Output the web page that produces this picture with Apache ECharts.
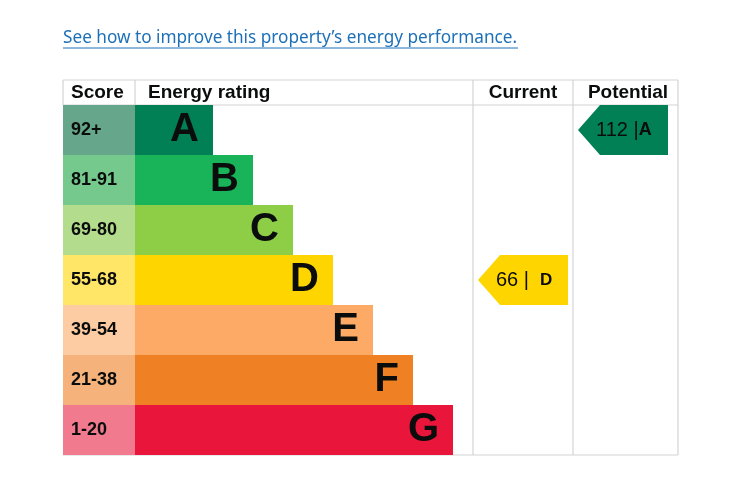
<!DOCTYPE html>
<html>
<head>
<meta charset="utf-8">
<script src="https://cdn.jsdelivr.net/npm/echarts@6/dist/echarts.min.js"></script>
<style>
html,body{margin:0;padding:0;background:#fff;}
#chart{width:738px;height:487px;}
</style>
</head>
<body>
<div id="chart"></div>
<script>
// energy bands, top to bottom
var bands = ['A', 'B', 'C', 'D', 'E', 'F', 'G'];
var scoreRanges = ['92+', '81-91', '69-80', '55-68', '39-54', '21-38', '1-20'];
var rangeMin = [92, 81, 69, 55, 39, 21, 1];
var barLengths = [78, 118, 158, 198, 238, 278, 318];
var bandColors = ['#008054', '#19b459', '#8dce46', '#ffd500', '#fcaa65', '#ef8023', '#e9153b'];
var scoreColors = ['#66a68a', '#75c98c', '#b3dd8c', '#ffe666', '#fdcca3', '#f5b27b', '#f27a8f'];
var currentScore = 66;
var potentialScore = 112;

var font = '"Liberation Sans"';
var chart = echarts.init(document.getElementById('chart'));

function bandIndex(score) {
    for (var i = 0; i < rangeMin.length; i++) {
        if (score >= rangeMin[i]) return i;
    }
    return rangeMin.length - 1;
}

// arrow columns, in x axis units (axis maps 1:1 to pixels across the table)
var currentCol = [410, 510];
var potentialCol = [510, 615];
var scoreColWidth = 72;

function arrowItem(params, api) {
    var c0 = api.value(0), row = api.value(2);
    var left = api.coord([c0, row]);
    var h = api.size([0, 1])[1];
    var x0 = left[0] + 5, x1 = x0 + 90, yc = left[1];
    var top = yc - h / 2, bot = yc + h / 2;
    var idx = row;
    var score = api.value(3);
    var isPot = params.dataIndex === 1;
    return {
        type: 'group',
        children: [{
            type: 'polygon',
            shape: {points: [[x0, yc], [x0 + 22, top], [x1, top], [x1, bot], [x0 + 22, bot]]},
            style: {fill: bandColors[idx]}
        }, {
            type: 'text',
            style: {
                x: x0 + 18, y: yc,
                text: isPot ? '{n|' + score + ' |}{b|' + bands[idx] + '}' : '{n|' + score + ' |  }{s|' + bands[idx] + '}',
                verticalAlign: 'middle',
                rich: {
                    n: {fontSize: 20, fontFamily: font, fill: '#0b0c0c'},
                    b: {fontSize: 18, fontFamily: font, fontWeight: 'bold', fill: '#0b0c0c'},
                    s: {fontSize: 17, fontFamily: font, fontWeight: 'bold', fill: '#0b0c0c'}
                }
            }
        }]
    };
}

var line = function (x1, y1, x2, y2) {
    return {type: 'line', shape: {x1: x1, y1: y1, x2: x2, y2: y2}, style: {stroke: '#d3d3d3', lineWidth: 1.2}, silent: true};
};
var headText = function (x, text, align) {
    return {type: 'text', x: x, y: 93, style: {text: text, fontFamily: font, fontWeight: 'bold', fontSize: 19, fill: '#0b0c0c', align: align, verticalAlign: 'middle'}};
};

chart.setOption({
    animation: false,
    grid: {left: 63, right: 60, top: 105, bottom: 32},
    xAxis: {type: 'value', min: 0, max: 615, show: false},
    yAxis: {type: 'category', data: bands, inverse: true, show: false},
    graphic: [
        {type: 'text', x: 63, y: 38, style: {text: 'See how to improve this property\u2019s energy performance.', fontFamily: '"Noto Sans"', fontSize: 17.2, fill: '#1d70b8', verticalAlign: 'middle'}},
        {type: 'line', shape: {x1: 63, y1: 48, x2: 518, y2: 48}, style: {stroke: '#1d70b8', lineWidth: 1}},
        line(63, 80, 678, 80),
        line(63, 105, 678, 105),
        line(63, 455, 678, 455),
        line(63, 80, 63, 105),
        line(135, 80, 135, 105),
        line(473, 80, 473, 455),
        line(573, 80, 573, 455),
        line(678, 80, 678, 455),
        headText(71, 'Score', 'left'),
        headText(148, 'Energy rating', 'left'),
        headText(523, 'Current', 'center'),
        headText(628, 'Potential', 'center')
    ],
    series: [{
        type: 'bar',
        stack: 'row',
        barWidth: '100%',
        data: scoreRanges.map(function (r, i) {
            return {value: scoreColWidth, itemStyle: {color: scoreColors[i]}};
        }),
        label: {
            show: true, position: 'insideLeft', distance: 8,
            formatter: function (p) { return scoreRanges[p.dataIndex]; },
            fontFamily: font, fontWeight: 'bold', fontSize: 18, color: '#0b0c0c'
        }
    }, {
        type: 'bar',
        stack: 'row',
        barWidth: '100%',
        data: barLengths.map(function (v, i) {
            return {value: v, itemStyle: {color: bandColors[i]}};
        }),
        label: {
            show: true, position: 'insideRight', distance: 14,
            formatter: function (p) { return bands[p.dataIndex]; },
            fontFamily: font, fontWeight: 'bold', fontSize: 40, color: '#0b0c0c'
        }
    }, {
        type: 'custom',
        renderItem: arrowItem,
        encode: {x: [0, 1], y: 2},
        data: [
            [currentCol[0], currentCol[1], bandIndex(currentScore), currentScore],
            [potentialCol[0], potentialCol[1], bandIndex(potentialScore), potentialScore]
        ],
        z: 5
    }]
});
</script>
</body>
</html>
